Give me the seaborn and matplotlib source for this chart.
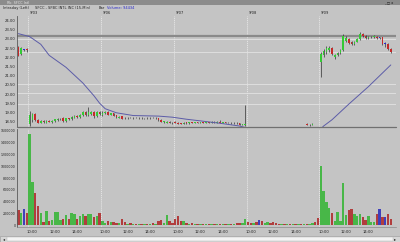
import numpy as np
import pandas as pd
import matplotlib
matplotlib.use("Agg")
import matplotlib.pyplot as plt
from matplotlib.patches import Rectangle
import seaborn as sns

sns.set_theme(style="white")
plt.rcParams['font.family'] = ['DejaVu Sans']

# ---------------- data ----------------
day_labels = ["9/03", "9/06", "9/07", "9/08", "9/09"]
day_start = [4, 30, 56, 82, 108]
time_labels = ["10:00", "12:00", "14:00"]
time_offsets = [1.5, 9.5, 17.5]

price_ticks = [18.5, 19.0, 19.5, 20.0, 20.5, 21.0, 21.5, 22.0, 22.5, 23.0, 23.5, 24.0]
vol_ticks = [0, 200000, 400000, 600000, 800000, 1000000, 1200000, 1400000, 1600000]
level_dark = 23.15
levels_light = [23.0, 22.28, 20.54, 20.04, 19.45]

# bar direction: g = up, r = down, b = unchanged
vol_dir = ("rgbr"
           "ggrrgrgrggggrgrggrggrggrgr"
           "ggrgrrgrrgrgrgrgrgrgrrggrr"
           "rrrgrgrgrgrgrgrgrgrgrgrrgg"
           "rrgrbrggrrrrgrgrgrgrgrggrr"
           "ggggrgggggrrgggrrgggrbrbrr")

vol_k = [256, 205, 273, 205,
         1555, 740, 552, 330, 210, 56, 240, 68, 85, 222, 222, 90, 110, 170, 110, 200, 185, 100, 150, 190, 150, 180, 195, 130, 160, 210,
         60, 40, 70, 45, 55, 40, 30, 100, 45, 25, 30, 20, 25, 15, 20, 25, 15, 20, 30, 15, 70, 90, 40, 170, 60, 40,
         100, 150, 60, 70, 30, 25, 35, 20, 15, 20, 15, 10, 20, 15, 10, 15, 20, 10, 15, 20, 15, 25, 40, 35, 30, 108,
         57, 40, 35, 45, 85, 68, 30, 45, 40, 57, 30, 20, 20, 15, 10, 12, 10, 15, 10, 12, 15, 10, 20, 30, 50, 114,
         997, 587, 400, 285, 211, 74, 228, 74, 712, 171, 256, 268, 182, 160, 182, 142, 85, 154, 57, 57, 188, 273, 142, 131, 182, 97]

opens = [22.55, 22.15, 22.40, 22.42,
         18.35, 18.60, 18.90, 18.60, 18.45, 18.55, 18.45, 18.55, 18.50, 18.52, 18.60, 18.62, 18.70, 18.52, 18.68, 18.62, 18.72, 18.82, 18.75, 18.85, 19.00, 18.85, 18.90, 19.00, 18.78, 19.00,
         18.85, 18.95, 19.02, 18.88, 18.95, 18.85, 18.72, 18.78, 18.72, 18.68, 18.72, 18.68, 18.72, 18.68, 18.71, 18.67, 18.71, 18.68, 18.72, 18.68, 18.70, 18.60, 18.48, 18.42, 18.50, 18.45,
         18.50, 18.45, 18.42, 18.38, 18.46, 18.40, 18.47, 18.42, 18.47, 18.43, 18.47, 18.43, 18.48, 18.44, 18.50, 18.45, 18.50, 18.44, 18.47, 18.42, 18.45, 18.40, 18.44, 18.40, 18.33, 18.30,
         18.15, 18.10, 18.02, 18.08, 18.03, 18.03, 17.98, 18.02, 18.06, 18.02, 17.98, 17.95, 17.90, 17.95, 17.92, 17.96, 17.93, 17.98, 17.95, 18.00, 17.98, 18.38, 18.30, 18.34, 18.10, 18.06,
         21.75, 22.10, 22.30, 22.40, 22.50, 22.00, 22.10, 22.25, 22.40, 22.90, 23.00, 22.85, 22.70, 22.85, 23.00, 23.28, 23.15, 23.05, 23.08, 23.10, 23.12, 23.05, 23.10, 22.72, 22.70, 22.45]
highs = [22.62, 22.55, 22.46, 22.48,
         19.05, 18.95, 18.95, 18.65, 18.60, 18.58, 18.60, 18.58, 18.58, 18.65, 18.70, 18.70, 18.75, 18.70, 18.72, 18.80, 18.85, 18.86, 18.90, 19.10, 19.05, 19.30, 19.05, 19.05, 19.05, 19.05,
         19.05, 19.10, 19.05, 18.98, 18.97, 18.88, 18.80, 18.80, 18.74, 18.73, 18.73, 18.73, 18.73, 18.73, 18.73, 18.72, 18.73, 18.73, 18.74, 18.73, 18.72, 18.62, 18.55, 18.55, 18.52, 18.48,
         18.53, 18.48, 18.45, 18.47, 18.48, 18.48, 18.49, 18.48, 18.49, 18.48, 18.49, 18.49, 18.50, 18.51, 18.52, 18.52, 18.59, 18.49, 18.49, 18.47, 18.47, 18.46, 18.46, 18.42, 18.39, 19.40,
         18.18, 18.12, 18.10, 18.10, 18.06, 18.05, 18.04, 18.08, 18.08, 18.04, 18.00, 17.97, 17.96, 17.97, 17.98, 17.98, 18.00, 18.00, 18.02, 18.02, 18.04, 18.41, 18.37, 18.40, 18.12, 18.08,
         22.30, 22.45, 22.60, 22.60, 22.55, 22.20, 22.30, 22.45, 23.25, 23.15, 23.05, 22.90, 22.90, 23.05, 23.35, 23.32, 23.20, 23.15, 23.15, 23.18, 23.15, 23.12, 23.12, 22.80, 22.75, 22.50]
lows = [22.05, 22.10, 22.35, 22.30,
        18.25, 18.50, 18.55, 18.40, 18.40, 18.45, 18.42, 18.48, 18.45, 18.50, 18.55, 18.58, 18.50, 18.50, 18.60, 18.60, 18.70, 18.72, 18.72, 18.80, 18.80, 18.80, 18.85, 18.72, 18.75, 18.85,
        18.82, 18.90, 18.85, 18.85, 18.80, 18.72, 18.70, 18.62, 18.66, 18.66, 18.67, 18.66, 18.67, 18.66, 18.66, 18.65, 18.66, 18.66, 18.67, 18.66, 18.55, 18.48, 18.45, 18.40, 18.40, 18.38,
        18.40, 18.35, 18.35, 18.36, 18.39, 18.38, 18.40, 18.40, 18.41, 18.41, 18.41, 18.41, 18.42, 18.42, 18.43, 18.43, 18.42, 18.42, 18.40, 18.40, 18.38, 18.38, 18.38, 18.30, 18.30, 18.25,
        18.08, 18.00, 18.00, 18.01, 18.00, 17.96, 17.96, 18.00, 18.00, 17.96, 17.93, 17.88, 17.88, 17.90, 17.90, 17.91, 17.91, 17.93, 17.93, 17.96, 17.96, 18.30, 18.28, 18.32, 18.04, 17.95,
        20.90, 22.00, 22.20, 22.30, 22.10, 21.90, 22.05, 22.20, 22.35, 22.85, 22.70, 22.65, 22.65, 22.80, 22.95, 23.10, 23.00, 23.00, 23.05, 23.05, 23.00, 22.98, 22.65, 22.55, 22.40, 22.25]
closes = [22.08, 22.48, 22.40, 22.38,
          18.85, 18.90, 18.60, 18.45, 18.55, 18.48, 18.55, 18.50, 18.55, 18.62, 18.66, 18.66, 18.52, 18.68, 18.62, 18.75, 18.82, 18.75, 18.88, 19.00, 18.85, 19.00, 19.00, 18.78, 19.00, 18.90,
          18.98, 19.02, 18.88, 18.95, 18.82, 18.75, 18.76, 18.66, 18.68, 18.71, 18.69, 18.71, 18.69, 18.71, 18.68, 18.70, 18.68, 18.71, 18.69, 18.71, 18.58, 18.50, 18.52, 18.50, 18.42, 18.40,
          18.42, 18.38, 18.38, 18.45, 18.41, 18.46, 18.42, 18.46, 18.43, 18.46, 18.43, 18.47, 18.44, 18.49, 18.45, 18.50, 18.44, 18.47, 18.42, 18.45, 18.40, 18.44, 18.40, 18.34, 18.37, 18.35,
          18.10, 18.02, 18.08, 18.03, 18.03, 17.98, 18.02, 18.06, 18.02, 17.98, 17.95, 17.90, 17.94, 17.92, 17.96, 17.93, 17.98, 17.95, 18.00, 17.98, 18.02, 18.32, 18.34, 18.38, 18.06, 17.98,
          22.20, 22.35, 22.50, 22.50, 22.15, 22.10, 22.25, 22.40, 23.15, 23.05, 22.75, 22.70, 22.85, 23.00, 23.28, 23.15, 23.05, 23.12, 23.12, 23.15, 23.02, 23.05, 22.70, 22.72, 22.45, 22.30]

# moving average line (two visible stretches)
ma_idx_a = [0, 4, 8, 11, 17, 23, 27, 29, 31, 35, 41, 50, 55, 60, 65, 72, 79, 83]
ma_val_a = [23.28, 23.12, 22.70, 22.10, 21.45, 20.60, 19.90, 19.50, 19.20, 18.98, 18.83, 18.80, 18.74, 18.63, 18.54, 18.41, 18.26, 18.10]
ma_idx_b = [108, 109, 112, 118, 125, 133]
ma_val_b = [18.10, 18.26, 18.60, 19.45, 20.40, 21.58]

# ---------------- style ----------------
BG = "#c4c4c4"
COL = {"g": "#35c935", "r": "#c42a2a", "b": "#2a2ad0"}
MA_COL = "#5c5ca8"
AXIS_COL = "#5a5a5a"
FS_P = 2.7   # price tick labels
FS_V = 2.35  # volume tick labels
FS_X = 2.7   # time labels
FS_H = 2.6   # header

n = len(vol_k)
idx = np.arange(n)
df = pd.DataFrame({"bar": idx, "volume": np.array(vol_k) * 1000, "dir": list(vol_dir)})

fig = plt.figure(figsize=(4, 2.42), dpi=100)
fig.patch.set_facecolor(BG)
W, H = 400.0, 242.0
axp = fig.add_axes([17 / W, 1 - 127 / H, 379 / W, 111 / H])
axv = fig.add_axes([17 / W, 1 - 227 / H, 379 / W, 98 / H])
xlim = (-0.5, -0.5 + 379 / 2.8)

for ax in (axp, axv):
    ax.set_facecolor(BG)
    for s in ax.spines.values():
        s.set_visible(False)
    ax.spines["left"].set_visible(True)
    ax.spines["left"].set_color(AXIS_COL)
    ax.spines["left"].set_linewidth(0.6)
    for ds in day_start:
        ax.axvline(ds - 0.5, color="#e8e8e8", lw=0.6, ls=(0, (1.5, 1)), zorder=0)

# ---- price panel ----
for lv in levels_light:
    axp.axhline(lv, color="#e2e2e2", lw=0.6, zorder=0)
axp.axhline(level_dark, color="#8a8a8a", lw=1.6, zorder=1)

o = np.array(opens); c = np.array(closes); h = np.array(highs); l = np.array(lows)
colors = [COL[d] for d in vol_dir]
axp.vlines(idx, l, h, color="#222222", lw=0.45, zorder=2)
body_lo = np.minimum(o, c)
body_h = np.maximum(np.abs(c - o), 0.025)
axp.bar(idx, body_h, bottom=body_lo, width=0.62, color=colors, edgecolor="none", zorder=3)

sns.lineplot(x=ma_idx_a, y=ma_val_a, color=MA_COL, lw=0.7, ax=axp, zorder=4)
sns.lineplot(x=ma_idx_b, y=ma_val_b, color=MA_COL, lw=0.7, ax=axp, zorder=4)

axp.set_xlim(*xlim)
axp.set_ylim(18.207, 24.239)
axp.set_yticks(price_ticks)
axp.set_yticklabels([f"{t:.2f}" for t in price_ticks])
axp.set_xticks([])
axp.tick_params(axis="y", labelsize=FS_P, length=0, pad=1.2, colors="#222222")
axp.set_xlabel(""); axp.set_ylabel("")
axp.axhline(18.207, color="#707070", lw=0.9, zorder=5, clip_on=False)

for lab, ds in zip(day_labels, day_start):
    axp.text(ds - 0.5 + 0.6, 1.012, lab, transform=axp.get_xaxis_transform(),
             fontsize=FS_H, ha="left", va="bottom", color="#222222")

# ---- volume panel ----
sns.barplot(data=df, x="bar", y="volume", hue="dir", palette=COL, native_scale=True,
            dodge=False, width=0.85, errorbar=None, legend=False, linewidth=0, ax=axv)
axv.set_xlim(*xlim)
axv.set_ylim(-34000, 1634000)
axv.set_yticks(vol_ticks)
axv.set_yticklabels([str(v) for v in vol_ticks])
tpos, tlab = [], []
for ds in day_start:
    for off, tl in zip(time_offsets, time_labels):
        tpos.append(ds - 0.5 + off)
        tlab.append(tl)
axv.set_xticks(tpos)
axv.set_xticklabels(tlab)
axv.tick_params(axis="y", labelsize=FS_V, length=0, pad=0.8, colors="#222222")
axv.tick_params(axis="x", labelsize=FS_X, length=1.2, width=0.4, pad=0.8, colors="#222222")
axv.set_xlabel(""); axv.set_ylabel("")
axv.spines["bottom"].set_visible(True)
axv.spines["bottom"].set_color("#8a8a8a")
axv.spines["bottom"].set_linewidth(0.5)

# ---- window chrome ----
fig.patches.append(Rectangle((0, 1 - 5 / H), 1, 5 / H, transform=fig.transFigure,
                             facecolor="#8c8c8c", edgecolor="none", zorder=0))
fig.text(7 / W, 1 - 2.6 / H, "Rb: SFCC Intl", fontsize=2.4, color="#e6e6e6", va="center")
fig.text(384 / W, 1 - 2.6 / H, "_ \u25a1 x", fontsize=2.4, color="#111111", va="center")
fig.text(3 / W, 1 - 8 / H, "Intraday (Left)", fontsize=FS_H, color="#222222", va="center")
fig.text(35 / W, 1 - 8 / H, "SFCC - SFBC INTL INC (15-Min)", fontsize=FS_H, color="#222222", va="center")
fig.text(99 / W, 1 - 8 / H, "Bar", fontsize=FS_H, color="#222222", va="center")
fig.text(107 / W, 1 - 8 / H, "Volume: 94434", fontsize=FS_H, color="#2a2acc", va="center")

fig.patches.append(Rectangle((0, 0), 1, 6 / H, transform=fig.transFigure,
                             facecolor="#d6d6d6", edgecolor="#9a9a9a", lw=0.4, zorder=0))
fig.patches.append(Rectangle((7 / W, 1 / H), 386 / W, 4 / H, transform=fig.transFigure,
                             facecolor="#f4f4f4", edgecolor="#b0b0b0", lw=0.3, zorder=0))
fig.text(2.5 / W, 3 / H, "\u25c2", fontsize=3, color="#222222", va="center")
fig.text(394 / W, 3 / H, "\u25b8", fontsize=3, color="#222222", va="center")

fig.savefig("out.png", dpi=100, facecolor=fig.get_facecolor())
